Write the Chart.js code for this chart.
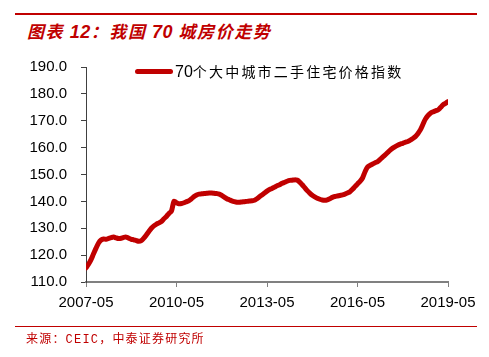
<!DOCTYPE html>
<html>
<head>
<meta charset="utf-8">
<script src="https://cdn.jsdelivr.net/npm/chart.js@4/dist/chart.umd.min.js"></script>
<style>
  html, body { margin: 0; padding: 0; background: #fff; }
  #wrap { position: relative; width: 489px; height: 357px; overflow: hidden; background: #fff; }
  #c { position: absolute; left: 0; top: 0; }
  .hr { position: absolute; left: 15px; width: 462px; background: #C00000; }
  #title { position: absolute; left: 27px; top: 21px; line-height: 20px; font-family: "Noto Sans CJK SC", sans-serif; font-weight: bold; font-style: italic; font-size: 17px; letter-spacing: 1.6px; color: #C00000; white-space: nowrap; }
  #title .num { font-family: "Liberation Sans", Arial, sans-serif; font-size: 18px; letter-spacing: 0.5px; }
  #legend { position: absolute; left: 135px; top: 61px; height: 20px; white-space: nowrap; }
  #legend .sw { position: absolute; left: 0; top: 8px; width: 38px; height: 5px; border-radius: 3px; background: #C00000; }
  #legend .tx { position: absolute; left: 40px; top: 0; line-height: 20px; font-family: "Noto Sans CJK SC", sans-serif; font-size: 14px; letter-spacing: 2.2px; color: #000; }
  #legend .tx .n { font-family: "Liberation Sans", Arial, sans-serif; font-size: 16px; letter-spacing: 0; }
  #source { position: absolute; left: 26px; top: 331px; line-height: 18px; font-family: "Liberation Mono", "Noto Sans CJK SC", monospace; font-size: 12px; letter-spacing: 1.2px; color: #C00000; white-space: nowrap; }
</style>
</head>
<body>
<div id="wrap">
  <div class="hr" style="top:13px;height:2px;"></div>
  <div id="title">图表 <span class="num">12</span>：我国 <span class="num">70</span> 城房价走势</div>
  <canvas id="c" width="489" height="357"></canvas>
  <div id="legend"><div class="sw"></div><div class="tx"><span class="n">70</span>个大中城市二手住宅价格指数</div></div>
  <div class="hr" style="top:326px;height:1px;"></div>
  <div id="source">来源：CEIC，中泰证券研究所</div>
</div>
<script>
// Monthly index values, 2007-05 .. 2019-05 (145 months)
const seriesName = '70个大中城市二手住宅价格指数';
const indexValues = [
  115.3,116.6,118.3,120.5,122.6,124.5,125.6,126.0,125.9,126.2,
  126.5,126.7,126.4,126.2,126.3,126.6,126.7,126.3,125.9,125.7,
  125.4,125.2,125.4,126.3,127.5,128.8,130.0,130.9,131.5,132.0,
  132.5,133.5,134.4,135.5,136.4,140.0,139.5,139.1,139.2,139.5,
  139.9,140.3,141.0,141.8,142.4,142.7,142.8,142.9,143.0,143.1,
  143.1,143.0,142.9,142.7,142.2,141.6,141.0,140.6,140.2,139.9,
  139.7,139.7,139.8,139.9,140.0,140.1,140.2,140.4,141.0,141.7,
  142.4,143.1,143.8,144.4,144.8,145.3,145.8,146.2,146.7,147.1,
  147.5,147.8,147.9,148.0,147.9,147.2,146.2,145.1,144.0,143.1,
  142.3,141.7,141.2,140.8,140.5,140.4,140.6,141.0,141.5,141.8,
  142.0,142.2,142.4,142.7,143.1,143.6,144.5,145.5,146.5,147.4,
  148.7,151.0,152.8,153.4,153.9,154.4,154.8,155.6,156.5,157.3,
  158.2,159.1,159.8,160.4,160.9,161.3,161.6,162.0,162.3,162.8,
  163.4,164.1,165.2,166.6,168.6,170.6,171.9,172.8,173.3,173.7,
  174.0,174.9,175.9,176.5,177.1
];
// Month categories
const months = [];
for (let i = 0; i < indexValues.length; i++) {
  const y = 2007 + Math.floor((4 + i) / 12);
  const m = ((4 + i) % 12) + 1;
  months.push(y + '-' + String(m).padStart(2, '0'));
}
const xTickLabels = ['2007-05', '2010-05', '2013-05', '2016-05', '2019-05'];
const yMin = 110, yMax = 190, yStep = 10;

const points = indexValues.map((v, i) => ({ x: i, y: v }));

new Chart(document.getElementById('c'), {
  type: 'line',
  data: {
    datasets: [{
      label: seriesName,
      data: points,
      borderColor: '#C00000',
      backgroundColor: '#C00000',
      borderWidth: 5,
      pointRadius: 0,
      tension: 0.3,
      borderCapStyle: 'round',
      borderJoinStyle: 'round',
      fill: false
    }]
  },
  options: {
    responsive: false,
    devicePixelRatio: 1,
    animation: false,
    events: [],
    layout: { padding: { top: 67, right: 41, left: 0, bottom: 0 } },
    plugins: { legend: { display: false }, tooltip: { enabled: false }, title: { display: false } },
    scales: {
      x: {
        type: 'linear',
        min: 0,
        max: indexValues.length - 1,
        afterBuildTicks: (s) => { s.ticks = xTickLabels.map(l => ({ value: months.indexOf(l) })); },
        ticks: {
          callback: (v) => months[v],
          maxRotation: 0,
          autoSkip: false,
          padding: 7,
          color: '#000',
          font: { family: 'Liberation Sans, Arial, sans-serif', size: 15 }
        },
        grid: { display: true, drawOnChartArea: false, drawTicks: true, tickLength: 5, color: '#808080', lineWidth: 1 },
        border: { display: true, color: '#808080', width: 2 },
        afterFit: (s) => { s.height = 75; }
      },
      y: {
        min: yMin,
        max: yMax,
        ticks: {
          stepSize: yStep,
          callback: (v) => v.toFixed(1),
          padding: 14,
          color: '#000',
          font: { family: 'Liberation Sans, Arial, sans-serif', size: 15 }
        },
        grid: { display: true, drawOnChartArea: false, drawTicks: true, tickLength: 5, color: '#404040', lineWidth: 1 },
        border: { display: true, color: '#404040', width: 1 },
        afterFit: (s) => { s.width = 86; }
      }
    }
  }
});
</script>
</body>
</html>
